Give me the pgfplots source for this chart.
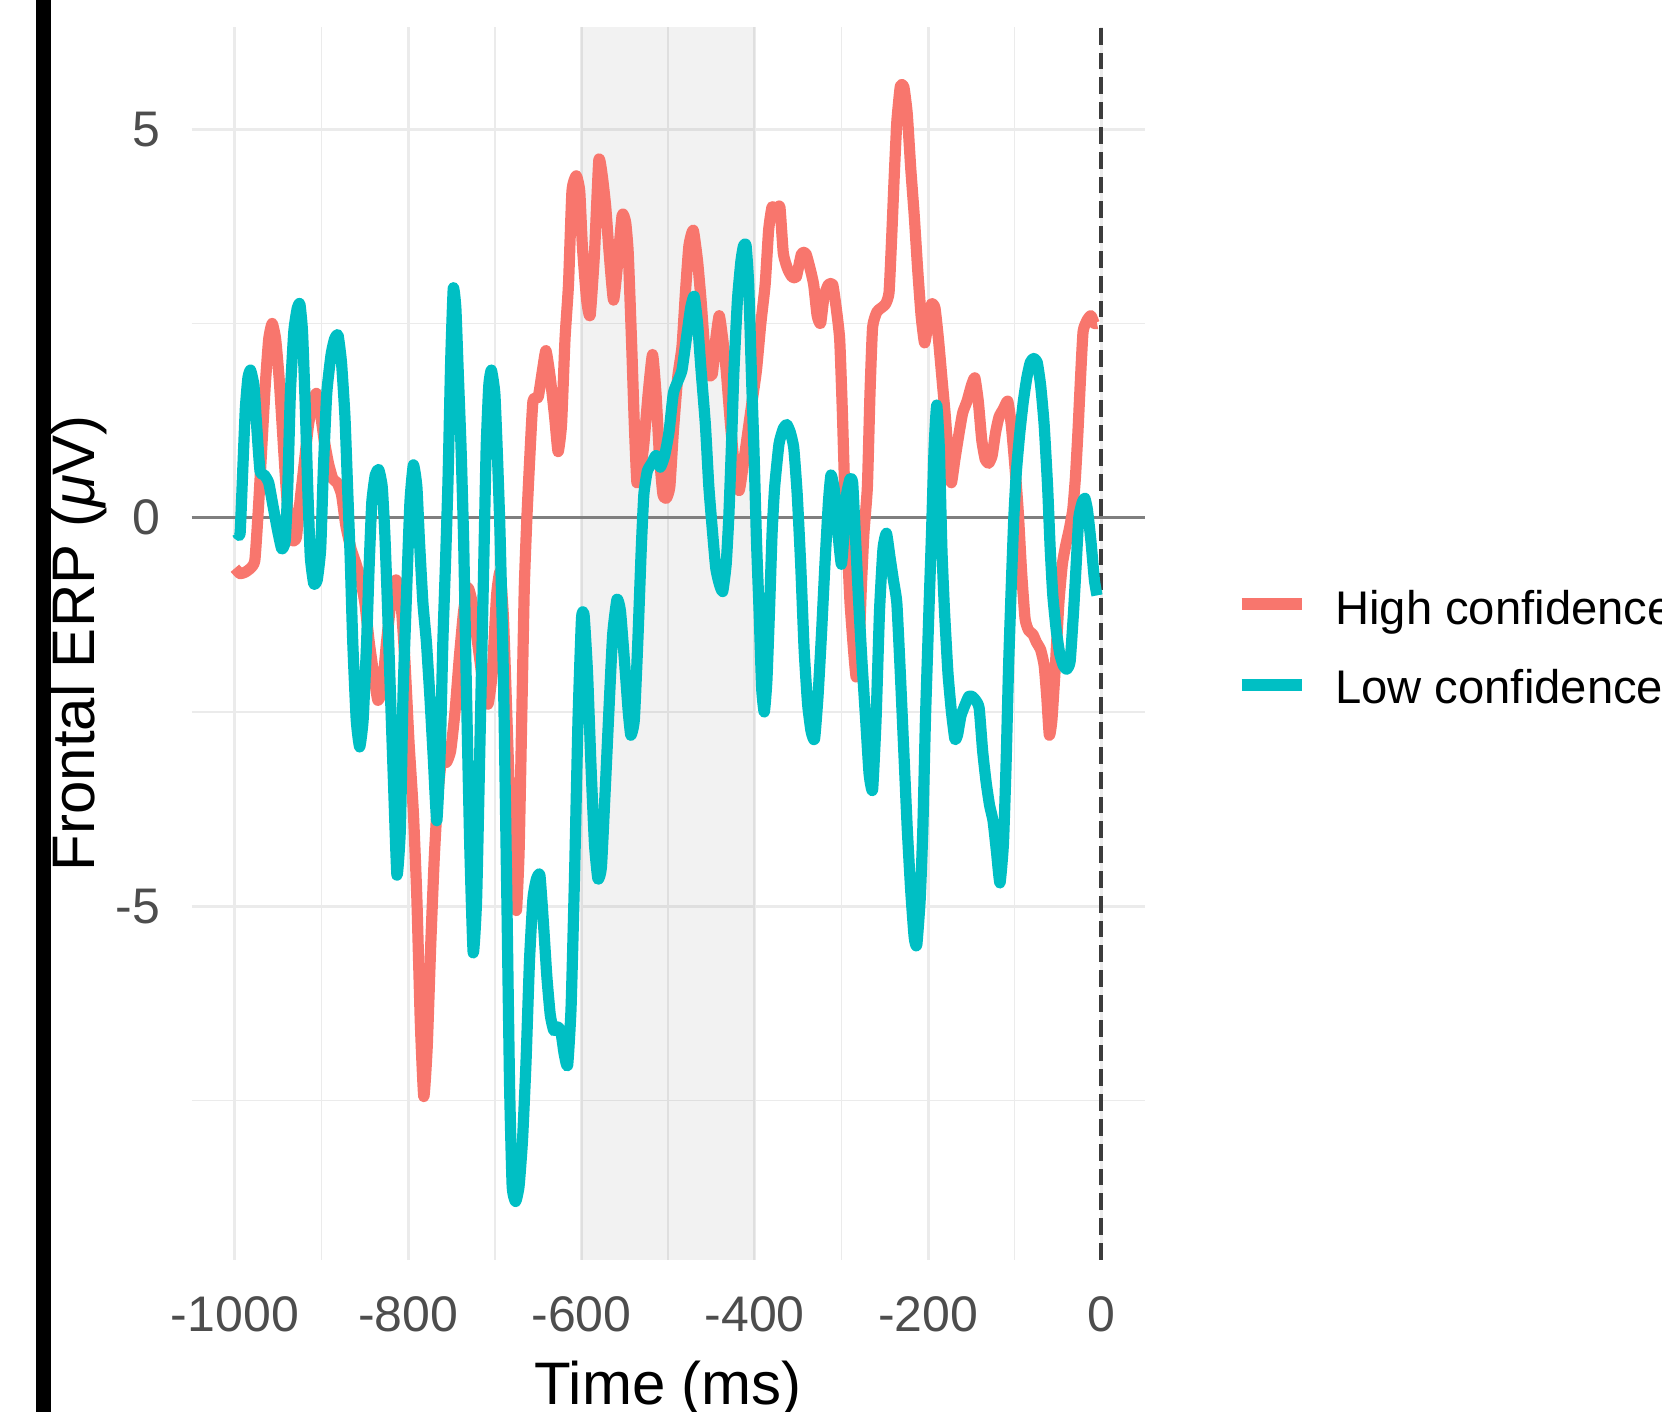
\documentclass[border=0pt]{standalone}
\usepackage{fontspec}
\setmainfont{Liberation Sans}
\usepackage{pgfplots}
\pgfplotsset{compat=1.18}
\definecolor{hiC}{HTML}{F8766D}
\definecolor{loC}{HTML}{00BFC4}
\definecolor{gridC}{HTML}{EBEBEB}
\definecolor{tickC}{HTML}{4D4D4D}
\definecolor{zeroC}{HTML}{7F7F7F}
\definecolor{vlineC}{HTML}{3C3C3C}

\begin{document}
\begin{tikzpicture}
\path[use as bounding box] (0,0) rectangle (415.5pt,353pt);
\begin{axis}[
  at={(47.9pt,38.05pt)}, anchor=south west,
  scale only axis, width=238.26pt, height=308.3pt,
  xmin=-1050, xmax=50, ymin=-9.55, ymax=6.32,
  axis line style={draw=none},
  major tick length=0pt, minor tick length=0pt,
  xtick={-1000,-800,...,0}, minor xtick={-900,-700,...,-100},
  ytick={-5,0,5}, minor ytick={-7.5,-2.5,2.5},
  grid=both,
  major grid style={gridC, line width=0.75pt},
  minor grid style={gridC, line width=0.4pt},
  scaled ticks=false,
  /pgf/number format/assume math mode=true,
  /pgf/number format/1000 sep={},
  ticklabel style={font=\fontsize{12.5}{15}\selectfont, text=tickC},
  xticklabel style={anchor=base, inner sep=0pt, yshift=-18.05pt},
  yticklabel style={anchor=east, inner sep=0pt, xshift=-7.7pt},
  xlabel={Time (ms)}, ylabel={Frontal ERP (\textit{μ}V)},
  label style={font=\fontsize{15}{18}\selectfont},
  xlabel style={at={(axis description cs:0.5,-0.1177)}, anchor=base},
  ylabel style={at={(axis description cs:-0.1014,0.5)}, anchor=base},
  clip=false,
]
% shaded window
\fill[black, opacity=0.05] (axis cs:-600,-9.55) rectangle (axis cs:-400,6.32);
% reference lines
\draw[zeroC, line width=0.75pt] (axis cs:-1050,0) -- (axis cs:50,0);
\draw[vlineC, line width=1pt, dash pattern=on 4.2pt off 2pt] (axis cs:0,-9.55) -- (axis cs:0,6.32);

% High confidence
\addplot[hiC, line width=2.8pt, line join=round, no marks, smooth, tension=0.3] coordinates {
(-1000,-0.65) (-994,-0.72) (-988,-0.70) (-982,-0.65) (-977,-0.55) (-973,0.1) (-969,0.9) (-965,1.7)
(-961,2.3) (-957,2.5) (-953,2.3) (-949,1.8) (-945,1.1) (-941,0.4) (-937,-0.15) (-933,-0.3)
(-929,-0.25) (-925,0.2) (-920,0.7) (-915,1.2) (-910,1.5) (-906,1.6) (-902,1.4) (-897,1.0)
(-892,0.7) (-887,0.5) (-882,0.45) (-877,0.3) (-872,-0.1) (-866,-0.4) (-860,-0.6) (-855,-0.8)
(-850,-1.1) (-845,-1.6) (-840,-2.0) (-835,-2.35) (-830,-2.2) (-825,-1.6) (-819,-1.0) (-814,-0.8)
(-809,-1.0) (-804,-1.8) (-799,-2.9) (-794,-3.8) (-790,-4.9) (-786,-6.5) (-782,-7.45) (-778,-6.8)
(-774,-5.5) (-770,-4.4) (-766,-3.6) (-761,-3.05) (-756,-3.15) (-751,-3.0) (-746,-2.5) (-741,-1.8)
(-736,-1.2) (-731,-0.9) (-726,-1.1) (-720,-1.6) (-714,-2.1) (-708,-2.4) (-703,-2.0) (-698,-1.0)
(-694,-0.7) (-690,-1.3) (-686,-2.6) (-682,-3.9) (-678,-4.8) (-675,-5.05) (-672,-4.3) (-669,-2.6)
(-666,-0.9) (-663,0.0) (-660,0.7) (-656,1.5) (-650,1.55) (-645,1.9) (-641,2.15) (-636,1.8)
(-631,1.3) (-627,0.85) (-623,1.2) (-619,2.3) (-615,3.0) (-611,4.2) (-606,4.4) (-602,4.2)
(-599,3.5) (-594,2.8) (-590,2.6) (-585,3.4) (-580,4.6) (-576,4.4) (-572,4.0) (-568,3.4)
(-563,2.8) (-558,3.3) (-553,3.9) (-549,3.8) (-546,3.4) (-542,2.2) (-539,1.2) (-536,0.45)
(-532,0.6) (-528,0.95) (-523,1.6) (-518,2.1) (-514,1.6) (-510,0.8) (-506,0.3) (-502,0.25)
(-498,0.4) (-494,1.1) (-489,1.8) (-484,2.2) (-480,2.9) (-476,3.5) (-471,3.7) (-466,3.3)
(-462,2.8) (-458,2.2) (-454,1.85) (-449,1.85) (-445,2.3) (-441,2.6) (-437,2.3) (-433,1.9)
(-428,1.2) (-423,0.6) (-418,0.35) (-413,0.7) (-408,1.1) (-403,1.5) (-398,1.9) (-393,2.5)
(-388,3.0) (-384,3.7) (-380,4.0) (-375,3.95) (-371,4.0) (-367,3.4) (-362,3.2) (-357,3.1)
(-352,3.1) (-346,3.4) (-341,3.4) (-336,3.2) (-332,3.0) (-328,2.6) (-324,2.5) (-320,2.85)
(-315,3.0) (-310,3.0) (-306,2.7) (-302,2.3) (-299,1.4) (-296,0.3) (-293,-0.4) (-290,-1.1)
(-286,-1.7) (-283,-2.05) (-280,-1.8) (-277,-0.9) (-274,-0.2) (-270,0.4) (-267,1.6) (-264,2.45)
(-259,2.65) (-254,2.7) (-249,2.75) (-245,2.9) (-242,3.6) (-239,4.4) (-236,5.1) (-232,5.55)
(-228,5.55) (-224,5.2) (-220,4.5) (-216,3.9) (-212,3.2) (-208,2.6) (-204,2.25) (-200,2.5)
(-196,2.75) (-192,2.7) (-188,2.3) (-184,1.8) (-180,1.3) (-176,0.7) (-173,0.45) (-169,0.75)
(-164,1.1) (-160,1.35) (-155,1.5) (-150,1.7) (-146,1.8) (-142,1.5) (-138,1.0) (-134,0.75)
(-130,0.7) (-126,0.8) (-122,1.1) (-118,1.3) (-113,1.4) (-108,1.5) (-104,1.2) (-100,0.7)
(-96,0.1) (-92,-0.7) (-88,-1.3) (-84,-1.45) (-79,-1.5) (-75,-1.6) (-70,-1.7) (-66,-1.9)
(-63,-2.3) (-60,-2.8) (-57,-2.6) (-53,-1.9) (-49,-1.1) (-45,-0.6) (-41,-0.35) (-37,-0.15)
(-33,0.1) (-30,0.5) (-27,1.1) (-24,1.8) (-21,2.4) (-16,2.55) (-12,2.6) (-8,2.5) (-5,2.5)
};

% Low confidence
\addplot[loC, line width=2.8pt, line join=round, no marks, smooth, tension=0.3] coordinates {
(-997,-0.2) (-994,-0.2) (-991,0.6) (-988,1.4) (-985,1.8) (-982,1.9) (-978,1.7) (-975,1.2)
(-971,0.6) (-966,0.55) (-961,0.45) (-956,0.15) (-951,-0.15) (-946,-0.4) (-942,-0.3) (-939,0.4)
(-936,1.6) (-932,2.4) (-928,2.7) (-925,2.75) (-922,2.4) (-919,1.5) (-916,0.4) (-913,-0.5)
(-909,-0.85) (-905,-0.8) (-901,-0.4) (-898,0.6) (-894,1.6) (-889,2.1) (-885,2.3) (-881,2.35)
(-877,2.0) (-873,1.3) (-870,0.4) (-867,-0.5) (-864,-1.6) (-860,-2.6) (-856,-2.95) (-852,-2.6)
(-848,-1.6) (-845,-0.6) (-842,0.2) (-838,0.55) (-834,0.62) (-830,0.4) (-827,-0.2) (-824,-1.1)
(-821,-2.1) (-817,-3.4) (-813,-4.6) (-809,-4.0) (-806,-2.3) (-802,-1.0) (-798,0.2) (-794,0.68)
(-790,0.4) (-787,-0.3) (-783,-1.1) (-779,-1.6) (-775,-2.3) (-771,-3.1) (-767,-3.9) (-763,-3.0)
(-760,-1.6) (-757,-0.6) (-754,0.5) (-751,2.0) (-748,2.95) (-745,2.7) (-742,1.8) (-739,0.9)
(-736,-0.3) (-733,-2.1) (-729,-4.2) (-725,-5.6) (-721,-4.9) (-717,-2.8) (-713,-0.7) (-710,0.9)
(-707,1.7) (-704,1.9) (-700,1.6) (-697,0.8) (-694,-0.2) (-690,-2.1) (-686,-5.0) (-683,-7.3)
(-680,-8.6) (-676,-8.8) (-672,-8.6) (-668,-8.0) (-664,-7.0) (-660,-5.7) (-656,-4.9) (-652,-4.65)
(-648,-4.6) (-644,-5.2) (-640,-5.9) (-636,-6.4) (-632,-6.6) (-628,-6.55) (-624,-6.6) (-620,-6.9)
(-616,-7.05) (-612,-6.3) (-608,-4.6) (-604,-2.6) (-600,-1.3) (-597,-1.25) (-593,-2.0) (-589,-3.2)
(-585,-4.2) (-581,-4.65) (-577,-4.5) (-573,-3.6) (-568,-2.4) (-564,-1.5) (-559,-1.05) (-555,-1.2)
(-550,-1.9) (-546,-2.5) (-543,-2.8) (-539,-2.6) (-535,-1.6) (-531,-0.4) (-528,0.3) (-524,0.6)
(-519,0.7) (-514,0.8) (-509,0.65) (-504,0.8) (-499,1.1) (-494,1.6) (-489,1.75) (-484,1.9)
(-479,2.3) (-474,2.7) (-470,2.85) (-466,2.5) (-462,1.9) (-457,1.2) (-453,0.4) (-449,-0.15)
(-445,-0.65) (-441,-0.85) (-437,-0.95) (-433,-0.6) (-430,0.0) (-427,0.9) (-424,1.9) (-420,2.8)
(-416,3.3) (-413,3.5) (-410,3.5) (-407,3.0) (-404,1.9) (-401,0.9) (-398,-0.3) (-395,-1.2)
(-392,-2.2) (-389,-2.5) (-386,-2.1) (-383,-1.2) (-380,-0.2) (-377,0.4) (-372,0.95) (-367,1.15)
(-363,1.2) (-359,1.1) (-355,0.9) (-351,0.3) (-347,-0.6) (-343,-1.7) (-339,-2.4) (-335,-2.75)
(-331,-2.85) (-327,-2.3) (-323,-1.5) (-319,-0.6) (-315,0.2) (-312,0.55) (-308,0.35) (-304,-0.2)
(-300,-0.6) (-297,-0.2) (-294,0.3) (-290,0.5) (-287,0.45) (-284,-0.2) (-280,-1.1) (-276,-1.9)
(-272,-2.6) (-268,-3.3) (-264,-3.5) (-260,-2.6) (-256,-1.2) (-252,-0.4) (-248,-0.2) (-244,-0.5)
(-240,-0.8) (-236,-1.1) (-232,-2.0) (-228,-3.0) (-224,-4.0) (-220,-4.8) (-216,-5.4) (-213,-5.5)
(-209,-4.9) (-206,-4.0) (-203,-2.6) (-199,-1.2) (-196,-0.2) (-193,0.9) (-190,1.45) (-187,0.9)
(-184,-0.4) (-181,-1.2) (-177,-2.0) (-173,-2.5) (-169,-2.85) (-166,-2.8) (-162,-2.55) (-157,-2.4)
(-153,-2.3) (-149,-2.3) (-145,-2.35) (-141,-2.45) (-137,-3.0) (-133,-3.4) (-129,-3.7) (-125,-3.9)
(-121,-4.3) (-117,-4.7) (-113,-4.2) (-110,-3.2) (-107,-1.9) (-104,-0.9) (-101,0.0) (-98,0.6)
(-94,1.1) (-90,1.5) (-86,1.8) (-82,2.0) (-78,2.05) (-74,2.0) (-70,1.7) (-66,1.2)
(-62,0.4) (-59,-0.4) (-56,-1.0) (-52,-1.45) (-48,-1.75) (-44,-1.9) (-40,-1.95) (-36,-1.85)
(-32,-1.2) (-29,-0.6) (-26,0.0) (-22,0.2) (-19,0.25) (-16,0.1) (-12,-0.3) (-8,-0.8) (-5,-1.0)
};
\end{axis}

% legend
\draw[hiC, line width=2.8pt] (310.4pt,202pt) -- (325.4pt,202pt);
\draw[loC, line width=2.8pt] (310.4pt,181.75pt) -- (325.4pt,181.75pt);
\node[anchor=base west, inner sep=0pt, font=\fontsize{11.8}{14}\selectfont] at (333.6pt,196.75pt) {High confidence};
\node[anchor=base west, inner sep=0pt, font=\fontsize{11.8}{14}\selectfont] at (333.6pt,177.2pt) {Low confidence};

% dark strip at the left edge
\fill[black] (9pt,0) rectangle (12.75pt,353pt);
\end{tikzpicture}
\end{document}
